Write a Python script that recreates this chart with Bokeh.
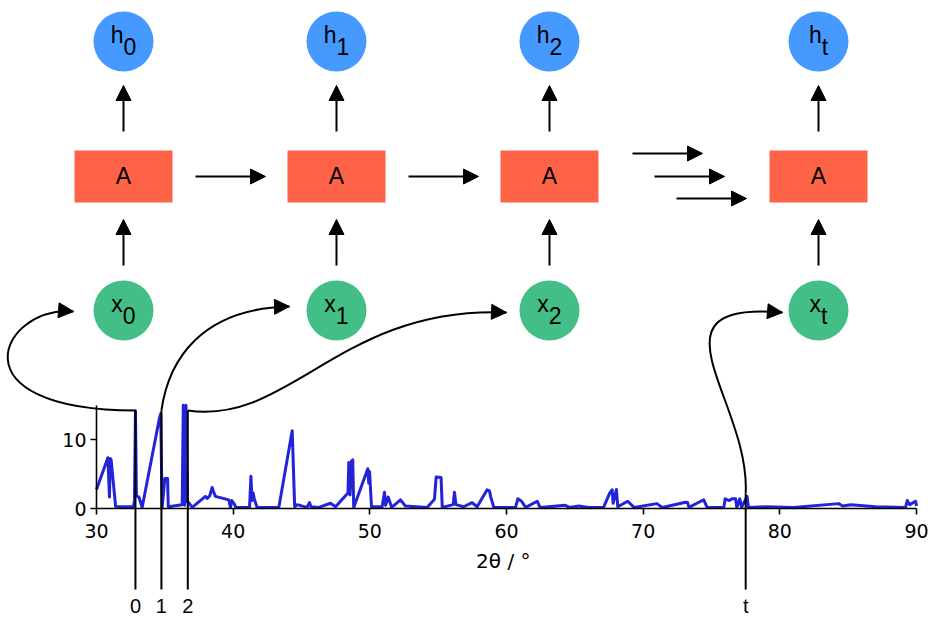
from bokeh.plotting import figure
from bokeh.models import Range1d, LinearAxis, FixedTicker, ColumnDataSource, Arrow, NormalHead
from bokeh.core.properties import value
from bokeh.embed import file_html
from bokeh.resources import INLINE

# ---------------- data ----------------
two_theta = [30.00, 30.83, 30.95, 31.00, 31.07, 31.40, 32.70, 32.78, 32.85, 32.92,
             33.10, 33.34, 34.60, 34.70, 34.80, 35.00, 35.20, 35.25, 36.27, 36.35,
             36.45, 36.55, 36.65, 36.75, 37.00, 37.97, 38.10, 38.29, 38.46, 38.58,
             38.70, 39.68, 39.80, 39.90, 40.05, 40.20, 41.20, 41.30, 41.38, 41.46,
             41.55, 41.75, 43.34, 44.32, 44.50, 44.68, 45.40, 45.58, 45.70, 46.27,
             47.12, 47.49, 48.40, 48.46, 48.55, 48.65, 48.75, 48.82, 49.85, 49.92,
             49.98, 50.12, 50.90, 51.07, 51.15, 51.34, 51.60, 52.24, 52.60, 54.19,
             54.73, 54.85, 55.21, 55.30, 56.10, 56.19, 56.30, 56.87, 57.48, 57.85,
             58.58, 58.75, 58.85, 59.07, 60.66, 60.83, 61.10, 61.40, 62.25, 62.45,
             64.30, 64.60, 65.30, 66.00, 67.10, 67.56, 67.73, 67.80, 68.04, 68.14,
             68.87, 69.33, 71.00, 71.40, 73.10, 73.25, 73.35, 74.07, 74.43, 74.68,
             75.90, 76.00, 76.30, 76.50, 76.76, 76.85, 77.07, 77.20, 77.60, 77.70,
             79.00, 81.00, 84.30, 84.60, 85.20, 87.00, 89.20, 89.32, 89.50, 89.93,
             90.00]
intensity = [2.8, 7.4, 1.7, 7.3, 7.1, 0.3, 0.3, 1.2, 14.2, 1.9,
             1.7, 0.2, 13.1, 13.8, 0.1, 4.4, 4.4, 0.3, 0.6, 15.0,
             0.5, 15.0, 1.0, 0.9, 0.2, 1.8, 1.5, 1.9, 3.1, 2.4,
             1.8, 1.3, 0.2, 1.2, 0.8, 0.2, 0.2, 4.7, 1.2, 2.3,
             1.4, 0.2, 0.2, 11.3, 0.3, 0.6, 0.2, 0.9, 0.3, 0.2,
             0.8, 0.3, 2.3, 6.7, 2.0, 6.9, 7.1, 0.2, 5.8, 3.7,
             5.4, 0.3, 0.3, 2.4, 0.5, 1.7, 0.2, 1.3, 0.4, 0.2,
             1.4, 4.6, 4.55, 0.2, 0.6, 2.4, 0.6, 0.3, 0.9, 0.3,
             2.75, 2.6, 1.7, 0.2, 0.2, 1.45, 1.1, 0.2, 1.1, 0.2,
             0.5, 0.2, 0.4, 0.2, 0.2, 2.3, 2.75, 0.8, 2.8, 0.3,
             1.1, 0.2, 0.75, 0.2, 0.95, 0.9, 0.2, 0.95, 1.3, 0.2,
             0.2, 1.45, 1.2, 1.45, 1.45, 0.2, 1.45, 0.2, 1.8, 0.2,
             0.3, 0.2, 0.75, 0.4, 0.6, 0.3, 0.2, 1.2, 0.6, 1.1,
             0.4]

x_ticks = [30, 40, 50, 60, 70, 80, 90]
y_ticks = [0, 10]
x_limits = (30, 90)
y_limits = (0, 15)
x_label = "2θ /  °"

marker_theta = [32.85, 34.75, 36.68, 77.5]
marker_labels = ["0", "1", "2", "t"]

step_subscripts = ["0", "1", "2", "t"]
hidden_letter = "h"
input_letter = "x"
cell_label = "A"

# ---------------- layout (page pixels) ----------------
W, H = 930, 617
PAGE0 = 0
X30_PX, PX_PER_DEG = 96.0, 13.667
Y0_PX, PX_PER_UNIT = 508.3, 6.9

xs = x_limits[0] - (X30_PX - PAGE0) / PX_PER_DEG
xe = xs + W / PX_PER_DEG
ye = (Y0_PX - PAGE0) / PX_PER_UNIT
ys = ye - H / PX_PER_UNIT


def px2theta(px):
    return xs + (px - PAGE0) / PX_PER_DEG


cols = [123, 336, 549, 818]
H_Y, A_Y, X_Y = 41, 176, 310
NODE = 60
BOX_W, BOX_H = 98, 52
FS = 23
LBL_FS = 20
SHIFT = 0.37          # baseline correction, in em
EM = {"h": 0.556, "x": 0.5, "0": 0.556, "1": 0.556, "2": 0.556, "t": 0.278}

H_COLOR = "#4599ff"
X_COLOR = "#44be87"
A_COLOR = "#ff6347"
SPEC_COLOR = "#2323d8"

p = figure(width=W, height=H, x_range=Range1d(xs, xe), y_range=Range1d(ys, ye),
           x_axis_type=None, y_axis_type=None, toolbar_location=None,
           output_backend="svg", min_border=0, outline_line_color=None)
p.extra_x_ranges = {"px": Range1d(PAGE0, PAGE0 + W)}
p.extra_y_ranges = {"px": Range1d(PAGE0 + H, PAGE0)}
PX = dict(x_range_name="px", y_range_name="px")

# spectrum
p.line(two_theta, intensity, line_color=SPEC_COLOR, line_width=3, line_join="round")

xaxis = LinearAxis(fixed_location=0, bounds=x_limits, ticker=FixedTicker(ticks=x_ticks),
                   axis_label=x_label)
yaxis = LinearAxis(fixed_location=x_limits[0], bounds=y_limits, ticker=FixedTicker(ticks=y_ticks))
for ax in (xaxis, yaxis):
    ax.axis_line_width = 1.6
    ax.major_tick_line_width = 1.6
    ax.major_tick_out = 6
    ax.major_tick_in = 0
    ax.minor_tick_out = 0
    ax.minor_tick_in = 0
    ax.major_label_text_font = "DejaVu Sans"
    ax.major_label_text_font_size = "19px"
    ax.major_label_text_color = "black"
    ax.axis_label_text_font = "DejaVu Sans"
    ax.axis_label_text_font_size = "20px"
    ax.axis_label_text_font_style = "normal"
    ax.axis_label_text_color = "black"
    ax.axis_line_color = "black"
    ax.major_tick_line_color = "black"
xaxis.major_label_standoff = 9
xaxis.axis_label_standoff = 8
yaxis.major_label_standoff = 4
p.add_layout(xaxis, "below")
p.add_layout(yaxis, "left")

# marker lines + labels
marker_top = [410, 410, 410, 493]
p.segment(x0=marker_theta, y0=marker_top, x1=marker_theta, y1=[589] * 4,
          line_color="black", line_width=2, y_range_name="px")
p.text(x=marker_theta, y=[613 - SHIFT * LBL_FS] * 4, text=marker_labels, text_align="center",
       text_baseline="alphabetic", text_font=value("Liberation Sans"),
       text_font_size=value(f"{LBL_FS}px"), text_color="black", y_range_name="px")

# nodes
p.scatter(x=cols, y=[H_Y] * 4, size=NODE, marker="circle", fill_color=H_COLOR, line_color=None, **PX)
p.scatter(x=cols, y=[X_Y] * 4, size=NODE, marker="circle", fill_color=X_COLOR, line_color=None, **PX)
p.rect(x=cols, y=[A_Y] * 4, width=BOX_W, height=BOX_H, fill_color=A_COLOR, line_color=None, **PX)
p.text(x=cols, y=[A_Y + 8 - SHIFT * FS] * 4, text=[cell_label] * 4, text_align="center",
       text_baseline="alphabetic", text_font=value("Liberation Sans"),
       text_font_size=value(f"{FS}px"), text_color="black", **PX)

main_x, main_y, main_t, sub_x, sub_y, sub_t = [], [], [], [], [], []
for letter, cy in ((hidden_letter, H_Y), (input_letter, X_Y)):
    for c, s in zip(cols, step_subscripts):
        total = (EM[letter] + EM[s]) * FS
        split = c - total / 2 + EM[letter] * FS
        main_x.append(split); main_y.append(cy + 2 - SHIFT * FS); main_t.append(letter)
        sub_x.append(split); sub_y.append(cy + 14 - SHIFT * FS); sub_t.append(s)
p.text(x=main_x, y=main_y, text=main_t, text_align="right", text_baseline="alphabetic",
       text_font=value("Liberation Sans"), text_font_size=value(f"{FS}px"), text_color="black", **PX)
p.text(x=sub_x, y=sub_y, text=sub_t, text_align="left", text_baseline="alphabetic",
       text_font=value("Liberation Sans"), text_font_size=value(f"{FS}px"), text_color="black", **PX)

# straight arrows
ax0, ay0, ax1, ay1 = [], [], [], []
for c in cols:
    ax0 += [c, c]; ay0 += [131, 265]; ax1 += [c, c]; ay1 += [85, 219]
for (x0, y0, x1, y1) in [(195, 176, 265, 176), (408, 176, 478, 176), (632, 153, 702, 153),
                         (654, 176, 724, 176), (676, 198, 746, 198)]:
    ax0.append(x0); ay0.append(y0); ax1.append(x1); ay1.append(y1)
arrow_src = ColumnDataSource(dict(x0=ax0, y0=ay0, x1=ax1, y1=ay1))
p.add_layout(Arrow(end=NormalHead(size=15, fill_color="black", line_color="black", line_width=1),
                   x_start="x0", y_start="y0", x_end="x1", y_end="y1", source=arrow_src,
                   line_width=2, line_color="black", **PX))

# curved connectors from spectrum markers to the inputs
curves = [  # (start_y, c1, c2, tip)
    (410, (-50, 410), (0, 305), (73, 311)),
    (410, (168, 360), (200, 308), (289, 306)),
    (410, (290, 425), (340, 305), (506, 312)),
    (493, (750, 400), (640, 300), (782, 312)),
]
bx0, by0, bx1, by1, bcx0, bcy0, bcx1, bcy1 = [], [], [], [], [], [], [], []
hx0, hy0, hx1, hy1 = [], [], [], []
for m, (sy, c1, c2, tip) in zip(marker_theta, curves):
    bx0.append(m); by0.append(sy)
    bcx0.append(px2theta(c1[0])); bcy0.append(c1[1])
    bcx1.append(px2theta(c2[0])); bcy1.append(c2[1])
    bx1.append(px2theta(tip[0])); by1.append(tip[1])
    dx, dy = tip[0] - c2[0], tip[1] - c2[1]
    n = (dx * dx + dy * dy) ** 0.5
    hx0.append(tip[0] - 6 * dx / n); hy0.append(tip[1] - 6 * dy / n)
    hx1.append(tip[0]); hy1.append(tip[1])
p.bezier(x0=bx0, y0=by0, x1=bx1, y1=by1, cx0=bcx0, cy0=bcy0, cx1=bcx1, cy1=bcy1,
         line_color="black", line_width=2, y_range_name="px")
head_src = ColumnDataSource(dict(x0=hx0, y0=hy0, x1=hx1, y1=hy1))
p.add_layout(Arrow(end=NormalHead(size=15, fill_color="black", line_color="black", line_width=1),
                   x_start="x0", y_start="y0", x_end="x1", y_end="y1", source=head_src,
                   line_width=2, line_color="black", **PX))

open("out.html", "w").write(file_html(p, INLINE))
